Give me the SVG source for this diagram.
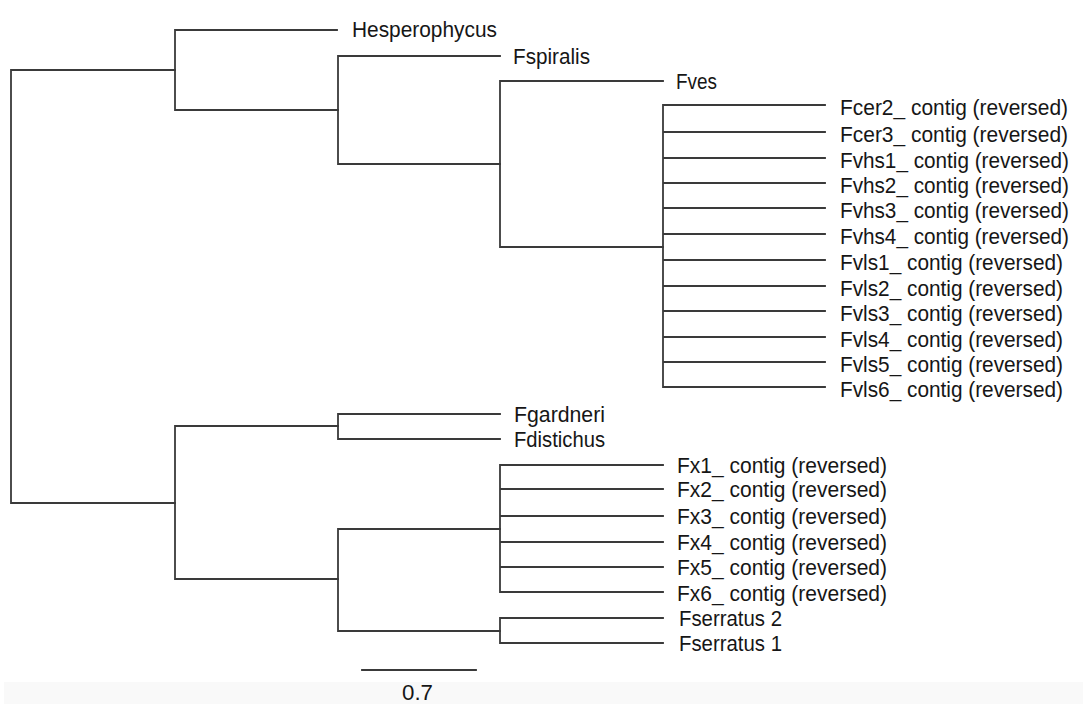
<svg xmlns="http://www.w3.org/2000/svg" width="1083" height="704" viewBox="0 0 1083 704">
<style>
.br{fill:none;stroke:#3a3a3a;stroke-width:1.8;stroke-linecap:square}
.lb{font-family:"Liberation Sans",Arial,sans-serif;font-size:22px;fill:#161616}
</style>
<rect x="0" y="0" width="1083" height="704" fill="#ffffff"/>
<rect x="4" y="682" width="1079" height="22" fill="#f9f9f9"/>
<g id="connectors">
<path class="br" d="M11,70 V503 M11,70 H175 M11,503 H175"/>
<path class="br" d="M175,30 V110 M175,30 H337 M175,110 H338"/>
<path class="br" d="M338,56 V164 M338,56 H500 M338,164 H500"/>
<path class="br" d="M500,81 V247 M500,81 H663 M500,247 H663"/>
<path class="br" d="M663,105 V387 M663,105 H825 M663,132 H825 M663,158 H825 M663,183 H825 M663,208 H825 M663,234 H825 M663,260 H825 M663,286 H825 M663,311 H825 M663,337 H825 M663,362 H825 M663,387 H825"/>
<path class="br" d="M175,426 V579 M175,426 H338 M175,579 H338"/>
<path class="br" d="M338,414 V439 M338,414 H500 M338,439 H500"/>
<path class="br" d="M338,529 V631 M338,529 H500 M338,631 H500"/>
<path class="br" d="M500,465 V592 M500,465 H663 M500,489 H663 M500,516 H663 M500,542 H663 M500,567 H663 M500,592 H663"/>
<path class="br" d="M500,618 V643 M500,618 H663 M500,643 H663"/>
</g>
<g id="n-hesperophycus"><text class="lb" x="352" y="37" textLength="145" lengthAdjust="spacingAndGlyphs">Hesperophycus</text></g>
<g id="n-fspiralis"><text class="lb" x="513" y="64" textLength="77" lengthAdjust="spacingAndGlyphs">Fspiralis</text></g>
<g id="n-fves"><text class="lb" x="676" y="89" textLength="41" lengthAdjust="spacingAndGlyphs">Fves</text></g>
<g id="n-fcer2"><text class="lb" x="840" y="115" textLength="228" lengthAdjust="spacingAndGlyphs">Fcer2_ contig (reversed)</text></g>
<g id="n-fcer3"><text class="lb" x="840" y="142" textLength="228" lengthAdjust="spacingAndGlyphs">Fcer3_ contig (reversed)</text></g>
<g id="n-fvhs1"><text class="lb" x="840" y="168" textLength="229" lengthAdjust="spacingAndGlyphs">Fvhs1_ contig (reversed)</text></g>
<g id="n-fvhs2"><text class="lb" x="840" y="193" textLength="229" lengthAdjust="spacingAndGlyphs">Fvhs2_ contig (reversed)</text></g>
<g id="n-fvhs3"><text class="lb" x="840" y="218" textLength="229" lengthAdjust="spacingAndGlyphs">Fvhs3_ contig (reversed)</text></g>
<g id="n-fvhs4"><text class="lb" x="840" y="244" textLength="229" lengthAdjust="spacingAndGlyphs">Fvhs4_ contig (reversed)</text></g>
<g id="n-fvls1"><text class="lb" x="840" y="270" textLength="223" lengthAdjust="spacingAndGlyphs">Fvls1_ contig (reversed)</text></g>
<g id="n-fvls2"><text class="lb" x="840" y="296" textLength="223" lengthAdjust="spacingAndGlyphs">Fvls2_ contig (reversed)</text></g>
<g id="n-fvls3"><text class="lb" x="840" y="321" textLength="223" lengthAdjust="spacingAndGlyphs">Fvls3_ contig (reversed)</text></g>
<g id="n-fvls4"><text class="lb" x="840" y="347" textLength="223" lengthAdjust="spacingAndGlyphs">Fvls4_ contig (reversed)</text></g>
<g id="n-fvls5"><text class="lb" x="840" y="372" textLength="223" lengthAdjust="spacingAndGlyphs">Fvls5_ contig (reversed)</text></g>
<g id="n-fvls6"><text class="lb" x="840" y="397" textLength="223" lengthAdjust="spacingAndGlyphs">Fvls6_ contig (reversed)</text></g>
<g id="n-fgardneri"><text class="lb" x="514" y="422" textLength="91" lengthAdjust="spacingAndGlyphs">Fgardneri</text></g>
<g id="n-fdistichus"><text class="lb" x="514" y="447" textLength="91" lengthAdjust="spacingAndGlyphs">Fdistichus</text></g>
<g id="n-fx1"><text class="lb" x="677" y="473" textLength="210" lengthAdjust="spacingAndGlyphs">Fx1_ contig (reversed)</text></g>
<g id="n-fx2"><text class="lb" x="677" y="497" textLength="210" lengthAdjust="spacingAndGlyphs">Fx2_ contig (reversed)</text></g>
<g id="n-fx3"><text class="lb" x="677" y="524" textLength="210" lengthAdjust="spacingAndGlyphs">Fx3_ contig (reversed)</text></g>
<g id="n-fx4"><text class="lb" x="677" y="550" textLength="210" lengthAdjust="spacingAndGlyphs">Fx4_ contig (reversed)</text></g>
<g id="n-fx5"><text class="lb" x="677" y="575" textLength="210" lengthAdjust="spacingAndGlyphs">Fx5_ contig (reversed)</text></g>
<g id="n-fx6"><text class="lb" x="677" y="601" textLength="210" lengthAdjust="spacingAndGlyphs">Fx6_ contig (reversed)</text></g>
<g id="n-fserratus2"><text class="lb" x="679" y="626" textLength="103" lengthAdjust="spacingAndGlyphs">Fserratus 2</text></g>
<g id="n-fserratus1"><text class="lb" x="679" y="651" textLength="103" lengthAdjust="spacingAndGlyphs">Fserratus 1</text></g>
<g id="scale">
<path class="br" d="M362,670 H476"/>
<text class="lb" x="402" y="700" textLength="31" lengthAdjust="spacingAndGlyphs">0.7</text>
</g>
</svg>
